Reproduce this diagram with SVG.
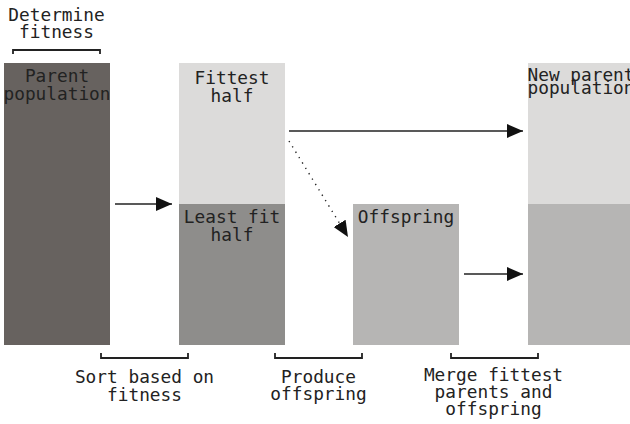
<svg xmlns="http://www.w3.org/2000/svg" width="630" height="424" viewBox="0 0 630 424">
<style>
text{font-family:"DejaVu Sans Mono","Liberation Mono",monospace;font-size:17.8px;fill:#222;text-anchor:middle}
.br{fill:none;stroke:#222;stroke-width:1.8}
.ar{fill:none;stroke:#222;stroke-width:1.3}
.dot{fill:none;stroke:#222;stroke-width:1.4;stroke-dasharray:1.3 5}
</style>
<defs>
<marker id="ah" markerUnits="userSpaceOnUse" markerWidth="16" markerHeight="14" refX="16" refY="7" orient="auto" viewBox="0 0 16 14">
<path d="M0,0 L16,7 L0,14 z" fill="#111"/>
</marker>
</defs>
<g id="parent-population">
<rect x="4" y="63" width="106" height="282" fill="#67625f"/>
<text x="57" y="82">Parent</text>
<text x="57" y="100">population</text>
</g>
<g id="fittest-half">
<rect x="179" y="63" width="106" height="141" fill="#dcdbda"/>
<text x="232" y="84">Fittest</text>
<text x="232" y="102">half</text>
</g>
<g id="least-fit-half">
<rect x="179" y="204" width="106" height="141" fill="#8e8d8b"/>
<text x="232" y="223">Least fit</text>
<text x="232" y="241">half</text>
</g>
<g id="offspring">
<rect x="353" y="204" width="106" height="141" fill="#b6b5b4"/>
<text x="406" y="223">Offspring</text>
</g>
<g id="new-parent-population">
<rect x="528" y="63" width="106" height="141" fill="#dcdbda"/>
<rect x="528" y="204" width="106" height="141" fill="#b6b5b4"/>
<text x="581" y="81">New parent</text>
<text x="581" y="93.5">population</text>
</g>
<g id="determine-fitness">
<path class="br" d="M13,54 V50 H100 V54"/>
<text x="56.5" y="20.5">Determine</text>
<text x="56.5" y="37.5">fitness</text>
</g>
<g id="sort-step">
<path class="br" d="M101,353 V358 H188 V353"/>
<text x="144.5" y="383">Sort based on</text>
<text x="144.5" y="401">fitness</text>
</g>
<g id="produce-step">
<path class="br" d="M275,353 V358 H362 V353"/>
<text x="318.5" y="382.5">Produce</text>
<text x="318.5" y="399.5">offspring</text>
</g>
<g id="merge-step">
<path class="br" d="M451,353 V358 H538 V353"/>
<text x="493.5" y="380.5">Merge fittest</text>
<text x="493.5" y="398">parents and</text>
<text x="493.5" y="415">offspring</text>
</g>
<g id="connectors">
<line class="ar" x1="115" y1="204" x2="172" y2="204" marker-end="url(#ah)"/>
<line class="ar" x1="289" y1="131" x2="523" y2="131" marker-end="url(#ah)"/>
<line class="dot" x1="289" y1="141" x2="348" y2="237" marker-end="url(#ah)"/>
<line class="ar" x1="464" y1="274" x2="523" y2="274" marker-end="url(#ah)"/>
</g>
</svg>
